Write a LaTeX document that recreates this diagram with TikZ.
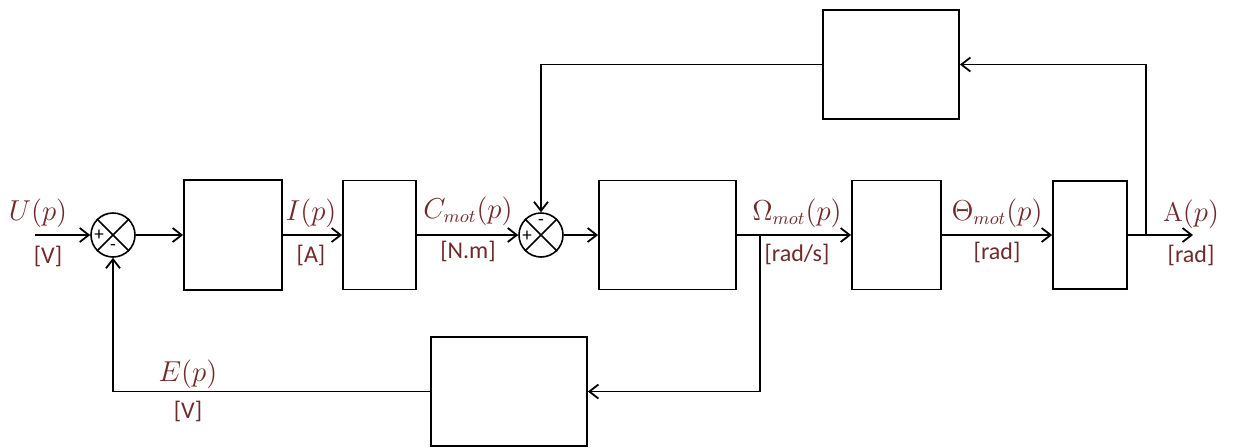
\documentclass[tikz,border=0pt]{standalone}
\usepackage{fontspec}
\setsansfont{Carlito}
\usetikzlibrary{arrows.meta}
\definecolor{lblred}{RGB}{112,42,42}
\begin{document}
\begin{tikzpicture}[x=0.5pt,y=-0.5pt,
  blk/.style={draw,line width=0.9pt,inner sep=0pt},
  sumnode/.style={draw,circle,line width=0.8pt,minimum size=22pt,inner sep=0pt},
  arr/.style={line width=0.9pt,-{Straight Barb[length=4.5pt,width=7pt,line width=0.9pt]}},
  lbl/.style={text=lblred,font=\fontsize{13.5}{15}\selectfont,inner sep=0pt},
  unit/.style={text=lblred,font=\sffamily\fontsize{12}{14}\selectfont,inner sep=0pt},
  sgn/.style={font=\sffamily\fontsize{9.5}{10}\selectfont,inner sep=0pt}]
\useasboundingbox (0,0) rectangle (1234,447);
% blocks
\node[blk,minimum width=49pt,minimum height=55pt] (b1) at (233,235) {};
\node[blk,minimum width=36.5pt,minimum height=54.5pt] (b2) at (379.5,235) {};
\node[blk,minimum width=68.5pt,minimum height=54.5pt] (b3) at (667.5,235) {};
\node[blk,minimum width=78pt,minimum height=54.5pt] (b4) at (509,391.5) {};
\node[blk,minimum width=44.5pt,minimum height=54.5pt] (b5) at (896.5,235) {};
\node[blk,minimum width=37pt,minimum height=54pt] (b6) at (1090,235) {};
\node[blk,minimum width=68pt,minimum height=54.5pt] (b7) at (891,64.5) {};
% summers
\node[sumnode] (s1) at (113,235) {};
\draw[line width=0.8pt] (s1.45) -- (s1.225) (s1.135) -- (s1.-45);
\node[sgn] (s1p) at (99,235) {+};
\node[sgn] (s1m) at (113,247) {-};
\node[sumnode] (s2) at (541,235) {};
\draw[line width=0.8pt] (s2.45) -- (s2.225) (s2.135) -- (s2.-45);
\node[sgn] (s2p) at (527,236) {+};
\node[sgn] (s2m) at (541,222) {-};
% coordinates
\coordinate (in) at (35,235);
\coordinate (out) at (1193,235);
\coordinate (br1) at (760,235);
\coordinate (br2) at (1146,235);
% connectors
\draw[arr] (in) -- (s1.west);
\draw[arr] (s1.east) -- (b1.west);
\draw[arr] (b1.east) -- (b2.west);
\draw[arr] (b2.east) -- (s2.west);
\draw[arr] (s2.east) -- (b3.west);
\draw[arr] (b3.east) -- (b5.west);
\draw[arr] (br1) |- (b4.east);
\draw[arr] (b4.west) -| (s1.south);
\draw[arr] (b5.east) -- (b6.west);
\draw[arr] (b6.east) -- (out);
\draw[arr] (br2) |- (b7.east);
\draw[arr] (b7.west) -| (s2.north);
% labels
\node[lbl] (lU) at (38,213) {$U(p)$};
\node[unit] (uU) at (48,256) {[V]};
\node[lbl] (lI) at (311,213) {$I(p)$};
\node[unit] (uI) at (311,255) {[A]};
\node[lbl] (lC) at (468,211) {$C_{mot}(p)$};
\node[unit] (uC) at (468,251) {[N.m]};
\node[lbl] (lO) at (797,213) {$\Omega_{mot}(p)$};
\node[unit] (uO) at (797,254) {[rad/s]};
\node[lbl] (lT) at (997,213) {$\Theta_{mot}(p)$};
\node[unit] (uT) at (997,252) {[rad]};
\node[lbl] (lA) at (1191,214) {$\mathrm{A}(p)$};
\node[unit] (uA) at (1191,255) {[rad]};
\node[lbl] (lE) at (188,374) {$E(p)$};
\node[unit] (uE) at (188,411) {[V]};
\end{tikzpicture}
\end{document}
